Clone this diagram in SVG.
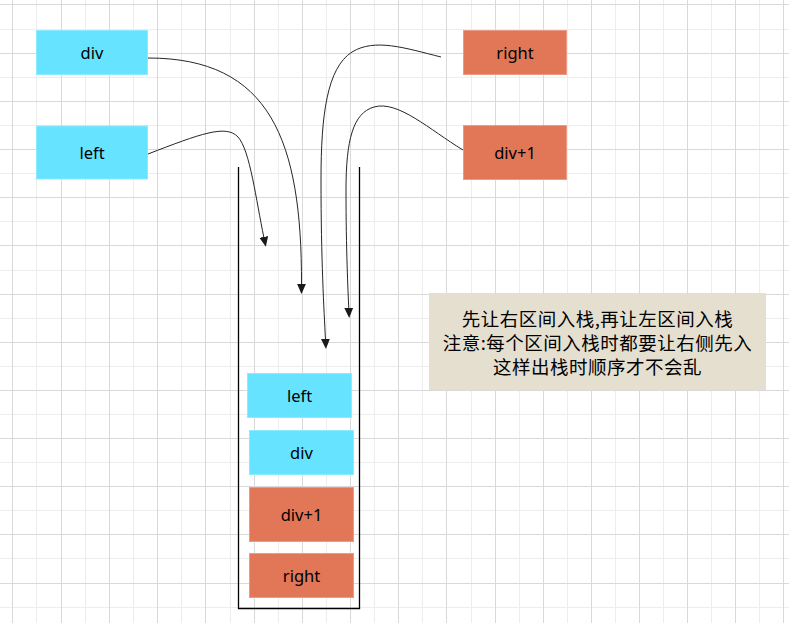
<svg xmlns="http://www.w3.org/2000/svg" width="789" height="623" viewBox="0 0 789 623">
<style>
.lbl{font-family:"Noto Sans","Liberation Sans",sans-serif;font-size:16.5px;fill:#000;text-anchor:middle;dominant-baseline:central}
.cyan{fill:#66E3FF;stroke:#8CEBFF;stroke-width:1}
.coral{fill:#E27757;stroke:#EC9C84;stroke-width:1}
.edge{fill:none;stroke:#262626;stroke-width:1}
.note{font-family:"Noto Sans CJK SC","Noto Sans CJK JP",sans-serif;font-size:18.5px;letter-spacing:0.5px;fill:#000;text-anchor:middle}
</style>
<defs>
<marker id="arr" markerUnits="userSpaceOnUse" markerWidth="10" markerHeight="10" refX="1" refY="4" orient="auto" viewBox="0 0 9 8">
<path d="M0,0 L9,4 L0,8 z" fill="#1a1a1a"/>
</marker>
</defs>
<rect width="789" height="623" fill="#ffffff"/>
<g id="grid">
<path stroke="#ededed" stroke-width="1" fill="none" d="M36.5,0V623M85.5,0V623M133.5,0V623M181.5,0V623M230.5,0V623M278.5,0V623M326.5,0V623M374.5,0V623M422.5,0V623M471.5,0V623M519.5,0V623M567.5,0V623M615.5,0V623M663.5,0V623M711.5,0V623M759.5,0V623M0,29.5H789M0,77.5H789M0,125.5H789M0,173.5H789M0,221.5H789M0,270.5H789M0,318.5H789M0,366.5H789M0,414.5H789M0,462.5H789M0,510.5H789M0,558.5H789M0,607.5H789"/>
<path stroke="#d9d9d9" stroke-width="1" fill="none" d="M12.5,0V623M61.5,0V623M109.5,0V623M157.5,0V623M205.5,0V623M254.5,0V623M302.5,0V623M350.5,0V623M398.5,0V623M446.5,0V623M495.5,0V623M543.5,0V623M591.5,0V623M639.5,0V623M687.5,0V623M735.5,0V623M783.5,0V623M0,4.5H789M0,53.5H789M0,101.5H789M0,149.5H789M0,197.5H789M0,245.5H789M0,294.5H789M0,342.5H789M0,390.5H789M0,438.5H789M0,486.5H789M0,534.5H789M0,583.5H789"/>
</g>
<g id="stack">
<path d="M238.5,167V608.5H359.5V167" fill="none" stroke="#000" stroke-width="1.3"/>
</g>
<g id="n-div"><rect class="cyan" x="36.5" y="30.5" width="111" height="44"/><text class="lbl" x="92" y="52.5">div</text></g>
<g id="n-left"><rect class="cyan" x="36.5" y="126" width="111" height="53"/><text class="lbl" x="92" y="152.5">left</text></g>
<g id="n-right"><rect class="coral" x="463.5" y="30.5" width="103" height="44"/><text class="lbl" x="515" y="52.5">right</text></g>
<g id="n-div1"><rect class="coral" x="463.5" y="125.5" width="103" height="54"/><text class="lbl" x="515" y="152.5">div+1</text></g>
<g id="s-left"><rect class="cyan" x="247.5" y="373.5" width="104" height="44"/><text class="lbl" x="299.5" y="395.5">left</text></g>
<g id="s-div"><rect class="cyan" x="249.5" y="430.5" width="104" height="44"/><text class="lbl" x="301.5" y="452.5">div</text></g>
<g id="s-div1"><rect class="coral" x="249.5" y="487.5" width="104" height="54"/><text class="lbl" x="301.5" y="514.5">div+1</text></g>
<g id="s-right"><rect class="coral" x="249.5" y="553.5" width="104" height="44"/><text class="lbl" x="301.5" y="575.5">right</text></g>
<g id="note">
<rect x="429" y="293" width="337" height="97" fill="#E5DFD0"/>
<text class="note" x="597.5" y="325.6">先让右区间入栈,再让左区间入栈</text>
<text class="note" x="597.5" y="349.6">注意:每个区间入栈时都要让右侧先入</text>
<text class="note" x="597.5" y="373.6">这样出栈时顺序才不会乱</text>
</g>
<g id="connectors">
<path class="edge" marker-end="url(#arr)" d="M148,58 C270,58 302,140 301.5,285"/>
<path class="edge" marker-end="url(#arr)" d="M148,154 C200,134 226,124 238,137 C250,150 256,200 264,238"/>
<path class="edge" marker-end="url(#arr)" d="M441,57 C405,48 375,38 352,52 C327,68 321,115 321,180 C321,260 324,310 325.5,340"/>
<path class="edge" marker-end="url(#arr)" d="M463,150 C430,130 398,100 374,107 C353,113 346,140 346,190 C346,250 348,290 348.8,309"/>
</g>
</svg>
